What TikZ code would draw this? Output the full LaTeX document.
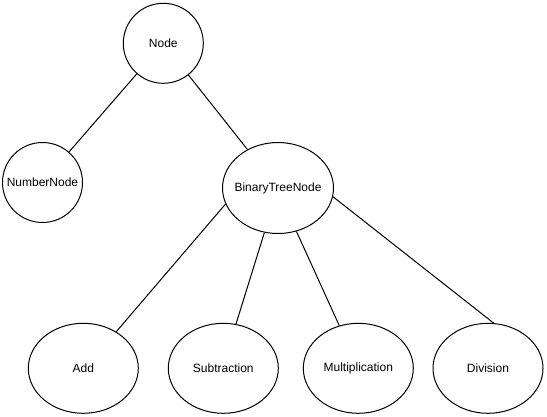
\documentclass[tikz,border=0pt]{standalone}
\usepackage{fontspec}
\setmainfont{Liberation Sans}
\usetikzlibrary{shapes.geometric}

\tikzset{
  base/.style={draw, line width=1pt, inner sep=0pt, font=\fontsize{12}{14}\selectfont},
  circ/.style={base, circle, minimum size=80pt},
  oval/.style={base, ellipse, minimum width=110pt, minimum height=90pt},
  edge/.style={line width=1pt}
}

\begin{document}
\begin{tikzpicture}[x=1pt,y=-1pt]
\useasboundingbox (0,0) rectangle (547,416);
\node [circ] (node) at (163.3,43.3) {Node};
\node [circ] (number) at (42.5,182.5) {NumberNode};
\node [oval, minimum width=111pt, minimum height=91pt] (btn) at (278,188) {\makebox[0pt]{BinaryTreeNode}};
\foreach \n/\x/\t in {add/83.3/Add, sub/223.3/Subtraction, mul/358.3/Multiplication, div/488/Division}
	\node [oval] (\n) at (\x,368.3) {\makebox[0pt]{\t}};
\draw [edge] (node) -- (number);
\draw [edge] (node) -- (btn);
\foreach \n/\a/\b in {add/197/48, sub/253/74, mul/293/114, div/351/83}
	\draw [edge] (btn.\a) -- (\n.\b);
\end{tikzpicture}
\end{document}
